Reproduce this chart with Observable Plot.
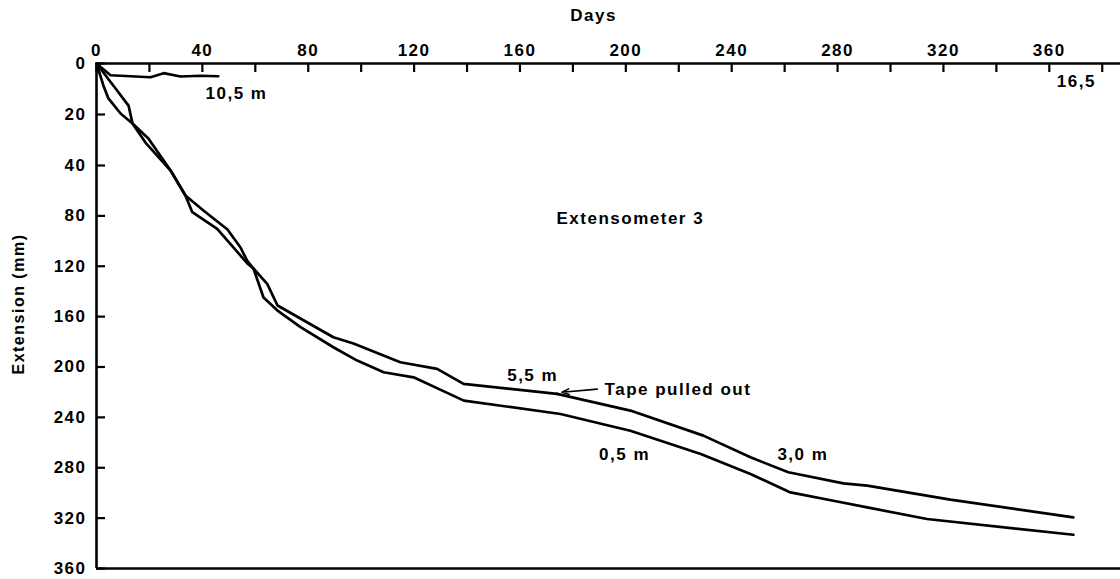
<!DOCTYPE html>
<html>
<head>
<meta charset="utf-8">
<script src="https://cdn.jsdelivr.net/npm/d3@7"></script>
<script src="https://cdn.jsdelivr.net/npm/@observablehq/plot@0.6"></script>
<style>
  html, body { margin: 0; padding: 0; background: #fff; }
  #chart svg { display: block; }
</style>
</head>
<body>
<div id="chart"></div>
<script>
// ---- axis ticks / labels ----
const xTickValues = [0, 20, 40, 60, 80, 100, 120, 140, 160, 180, 200, 220, 240, 260, 280, 300, 320, 340, 360, 380];
const xLabelValues = [0, 40, 80, 120, 160, 200, 240, 280, 320, 360];
const yTickValues = [0, 20, 40, 80, 120, 160, 200, 240, 280, 320, 360];

// ---- series (days, extension mm) ----
const days_10_5 = [0, 5.3, 20.4, 25.4, 31.7, 39.3, 46.0];
const ext_10_5  = [0, 4.6, 5.4, 3.8, 5.1, 4.8, 5.0];

const days_5_5 = [0, 7.2, 12.1, 13.6, 19.6, 28.0, 33.6, 40.4, 49.5, 54.4, 56.9, 59.3, 64.5, 68.4, 89.5, 97.1, 114.8, 128.7, 138.7, 174.0];
const ext_5_5  = [0, 9.8, 16.5, 23.5, 29.4, 44.0, 63.8, 75.7, 90.8, 105.1, 115.5, 121.8, 134.0, 151.2, 176.4, 181.4, 196.2, 201.5, 213.4, 221.3];

const days_3_0 = [174.0, 201.7, 229.3, 247.1, 261.4, 282.2, 291.2, 322.6, 369.1];
const ext_3_0  = [221.3, 234.6, 254.5, 271.7, 283.6, 292.4, 294.2, 305.3, 319.4];

const days_0_5 = [0, 2.6, 4.5, 9.1, 13.6, 18.5, 28.0, 33.6, 36.2, 45.6, 56.9, 59.3, 63.1, 68.4, 77.1, 89.5, 98.5, 108.5, 119.8, 138.8, 175.3, 201.7, 228.3, 247.1, 262.2, 278.4, 291.2, 313.8, 369.1];
const ext_0_5  = [0, 8.6, 13.7, 19.6, 23.5, 31.0, 44.0, 63.8, 77.1, 90.3, 117.5, 121.8, 144.8, 155.2, 168.4, 184.3, 194.9, 204.2, 208.2, 226.7, 237.3, 250.6, 269.1, 285.0, 299.6, 306.2, 311.5, 320.7, 333.2];

// ---- annotations ----
const noteText = ["10,5 m", "16,5", "Extensometer 3", "5,5 m", "Tape pulled out", "0,5 m", "3,0 m"];
const noteDay  = [52.9, 370.2, 201.7, 164.8, 219.7, 199.5, 266.9];
const noteExt  = [11.8, 7.1, 82, 206.8, 217.8, 269.5, 269.5];

const toRows = (xs, ys) => xs.map((d, i) => ({day: d, ext: ys[i]}));
const notes = noteText.map((t, i) => ({text: t, day: noteDay[i], ext: noteExt[i]}));

const lineStyle = {x: "day", y: "ext", stroke: "black", strokeWidth: 2.7, strokeLinejoin: "round"};

const chart = Plot.plot({
  width: 1120,
  height: 579,
  marginTop: 63,
  marginLeft: 96,
  marginRight: 0,
  marginBottom: 11,
  x: {type: "linear", domain: [0, 386.9]},
  y: {type: "linear", domain: [0, 40, 360], range: [63, 165, 568]},
  style: {
    fontFamily: "'Liberation Sans', Arial, sans-serif",
    fontSize: "17px",
    fontWeight: "bold",
    letterSpacing: "1.5px",
    background: "white",
    color: "black"
  },
  marks: [
    Plot.ruleY([0, 360], {stroke: "black", strokeWidth: 2.6}),
    Plot.ruleX([0], {stroke: "black", strokeWidth: 2.6}),
    Plot.ruleX(xTickValues, {x: d => d, y1: 0, y2: 0, insetBottom: -9, stroke: "black", strokeWidth: 2.2}),
    Plot.ruleY(yTickValues, {y: d => d, x1: 0, x2: 0, insetRight: -9, stroke: "black", strokeWidth: 2.2}),
    Plot.axisX(xLabelValues, {anchor: "top", tickSize: 0, tickPadding: 8, label: null}),
    Plot.axisY(yTickValues, {anchor: "left", tickSize: 0, tickPadding: 10, label: null}),
    Plot.line(toRows(days_10_5, ext_10_5), lineStyle),
    Plot.line(toRows(days_5_5, ext_5_5), lineStyle),
    Plot.line(toRows(days_3_0, ext_3_0), lineStyle),
    Plot.line(toRows(days_0_5, ext_0_5), lineStyle),
    Plot.arrow([0], {x1: 189.2, y1: 217.6, x2: 175.9, y2: 220.1, stroke: "black", strokeWidth: 1.6, headLength: 7, headAngle: 45}),
    Plot.text(notes, {x: "day", y: "ext", text: "text", fill: "black", textAnchor: "middle", lineAnchor: "middle"}),
    Plot.text(["Days"], {x: 187.8, y: -18.8, text: d => d, fill: "black", lineAnchor: "middle"}),
    Plot.text(["Extension (mm)"], {x: -29.5, y: 150, text: d => d, rotate: -90, fill: "black", lineAnchor: "middle", fontSize: 16})
  ]
});
document.getElementById("chart").appendChild(chart);
</script>
</body>
</html>
